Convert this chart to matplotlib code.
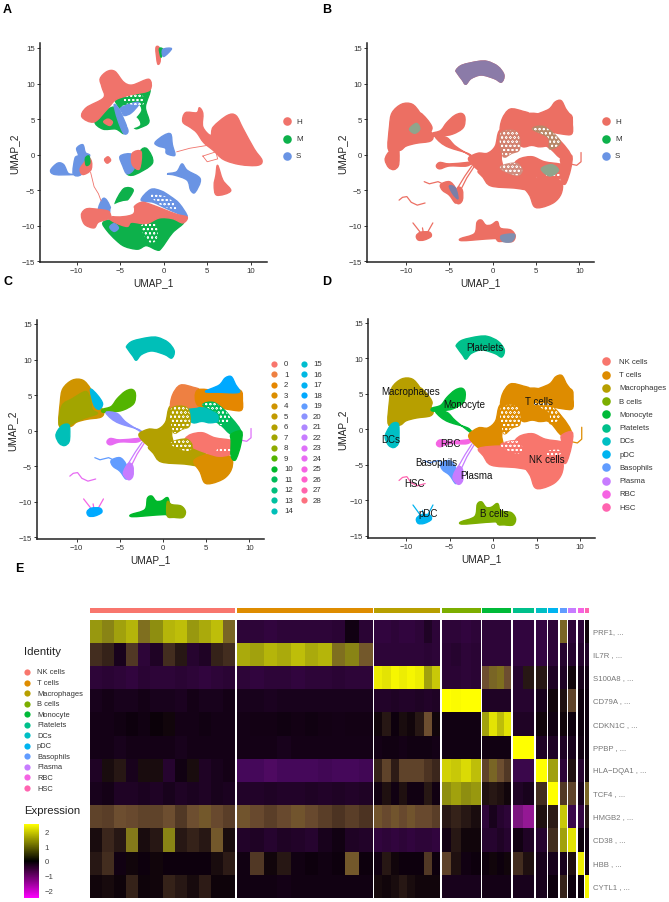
import matplotlib
matplotlib.use("Agg")
import matplotlib.pyplot as plt
import numpy as np
from matplotlib.colors import LinearSegmentedColormap
from matplotlib.path import Path
from matplotlib.patches import PathPatch
from matplotlib.cm import ScalarMappable
from matplotlib.colors import Normalize

plt.rcParams["font.family"] = ["Liberation Sans", "DejaVu Sans"]
plt.rcParams["hatch.linewidth"] = 0.35

W, H = 669, 903

# colours
cell_types = ["NK cells", "T cells", "Macrophages", "B cells", "Monocyte", "Platelets",
              "DCs", "pDC", "Basophils", "Plasma", "RBC", "HSC"]
cell_colors = ["#F8766D", "#DE8C00", "#B79F00", "#7CAE00", "#00BA38", "#00C08B",
               "#00BFC4", "#00B4F0", "#619CFF", "#C77CFF", "#F564E3", "#FF64B0"]
cluster_colors = ["#F8766D", "#EE8042", "#E58700", "#DB8E00", "#CF9400", "#C29A00", "#B3A000", "#A2A500",
                  "#8EAB00", "#53B400", "#00B82B", "#00BB5A", "#00BE7D", "#00C0A0", "#00BFB8",
                  "#00BDCF", "#00B9E3", "#00B2F3", "#00A9FF", "#619CFF", "#8B93FF", "#AE87FF",
                  "#C77CFF", "#DE71F9", "#E76BF3", "#F564E3", "#FF61CC", "#FF65AC", "#FC717F"]
phase_names = ["H", "M", "S"]
phase_colors = ["#F0736B", "#0DB14B", "#6A94E4"]

# UMAP outlines, panels B C D
platelets = [(-4.2, 11.9), (-3.5, 12.6), (-1.7, 13.1), (-.6, 13.1), (.6, 12.4), (1.3, 11.2), (1, 10.2), (.2, 10.7),
             (-1.3, 11.2), (-2.5, 10.7), (-3.1, 9.9), (-3.5, 10.5), (-4.1, 11.5)]
bcell_left = [(-3.7, -11.8), (-2.1, -11.1), (-1.8, -9.5), (-1.3, -9.2), (-.8, -9.9), (-.2, -9.9), (.6, -9.5),
              (.8, -12), (.2, -11.8), (-2.1, -12), (-3.6, -12.1)]
bcell_right = [(.5, -10), (1, -10.4), (2.1, -10.6), (2.6, -11.4), (2.3, -12.2), (1.3, -12.2), (.5, -12)]
pdc_blob = [(-8.8, -11.4), (-8.3, -10.9), (-7.3, -10.9), (-7.1, -11.5), (-7.9, -12), (-8.6, -12)]
rbc = [(-6.5, -1.6), (-6.1, -1.1), (-5, -1.3), (-3, -1.1), (-2.3, -1), (-3, -1.6), (-5, -1.6), (-6.1, -2)]
basophils = [(-6, -4.2), (-5, -3.8), (-4.3, -4.7), (-4, -6.2), (-4.3, -6.8), (-5, -5.7), (-5.8, -5)]
plasma = [(-4.6, -6), (-4, -4.6), (-3.5, -5), (-3.5, -6.4), (-4, -6.9)]
dcs = [(-12.2, 0), (-11.6, .8), (-10.9, .8), (-10.8, -.5), (-10.9, -1.6), (-11.4, -2.1), (-12, -1.8), (-12.4, -.8)]
mac_top = [(-12, .7), (-11.9, 4), (-11.6, 5.9), (-10.5, 7.1), (-9.3, 7.1), (-8.4, 5.9), (-7.6, 4), (-6.9, 2.7),
           (-7.2, 1.9), (-8.8, 1.6), (-10, 1.2), (-10.7, .6)]
mac_low = [(-12, .7), (-11.7, 3.5), (-10.5, 4.5), (-9, 5.5), (-8.5, 4.7), (-8.2, 3), (-7.6, 2.4), (-9, 1.8),
           (-10, 1.3), (-10.8, .8)]
mac_edge = [(-8.4, 5.8), (-7.6, 5), (-7, 3.8), (-7.4, 3), (-8, 3.6)]
monocyte = [(-7, 3), (-6, 3.4), (-5.3, 4.5), (-4.4, 5.5), (-3.6, 5.8), (-3.2, 5.2), (-3.4, 3.8), (-4.6, 2.9),
            (-6, 2.6), (-7, 2.6)]
mono_tail = [(-6.6, 2.6), (-5.3, 2.4), (-4.3, 1.2), (-2.5, -.2), (-2.9, .2), (-5, 1), (-6, 1.7)]
hub = [(-2.8, -.6), (-1.7, .2), (-.6, .2), (.3, 1.2), (.8, 3.4), (2.2, 3.9), (2, 2.5), (1.3, 1.2), (1, -.5), (1.1, -2),
       (-.4, -2.4), (-1.6, -2.2)]
strip = [(-1.6, -2.2), (.9, -1.9), (2.9, -2.2), (4.8, -2.8), (4.8, -4.9), (2.5, -4.7), (-.2, -4.4), (-1.1, -3.2)]
lobe_low = [(3.6, -4.2), (5.5, -3.2), (7, -3.2), (8, -4), (7.9, -5.5), (7.1, -6.7), (5.7, -7.4), (4.8, -7.3), (4.3, -5.8)]
nk_core = [(2.6, -1.1), (3.3, -.5), (4.6, -.3), (6, -1), (8, -1.4), (8.2, -2.2), (7.8, -3.3), (6.5, -3.6), (5.2, -3.2),
           (3.5, -2.4), (2.7, -1.8)]
arc_top = [(6, 3.9), (7.9, 1.8), (9, -.1), (7.9, -.5), (6.7, .8), (5.2, 2.2)]
arc_low = [(9.1, -.1), (9, -2), (8.4, -4.1), (7.9, -3.6), (7.9, -1.5), (7.9, -.5)]
teal_lobe = [(2.8, 1.9), (3, 3.4), (4, 3.9), (6, 3.2), (6.5, 1.5), (5.5, 1.1), (4.5, 1.3), (3.5, 1.1)]
t_left = [(.9, 3.2), (1.1, 5), (2, 6.4), (3.5, 6.1), (4.3, 5.6), (4.3, 3.6), (3, 3.2), (1.8, 3)]
t_right = [(4, 5.7), (6.5, 5.6), (8.9, 5.7), (9.2, 4.2), (9.1, 2.9), (8, 2.9), (5.8, 3.4), (4, 3.6)]
t_peak = [(4.9, 5.5), (6.5, 6.4), (7.2, 7.4), (7.9, 7.6), (8.4, 6.5), (8.8, 5.4), (6.5, 5.4)]

# sparse speckled parts of the ring
sparse_left = [(.9, 3), (2.8, 3.2), (3.1, .8), (2.2, .2), (1.2, -.2)]
sparse_arc = [(4.6, 3.6), (6, 3.9), (7.8, 1.8), (6.6, .8), (6.4, 2.4)]
sparse_low = [(1, -1.6), (2.7, -1.2), (3.4, -2.2), (2.8, -2.9), (1.2, -2.2)]
holes_ring = [(6.3, -3.1), (7.7, -3), (7.6, -2.4), (6.4, -2.5)]

# thin trails: (x list, y list)
hsc_x, hsc_y = [-10.8, -10.4, -9.9, -9.4, -8.7, -7.8], [-6.4, -6, -5.9, -6.7, -7.1, -6.8]
baso_x, baso_y = [-7.9, -7.3, -6.3, -5.4, -4.6], [-3.8, -4.1, -3.8, -4.3, -5.5]
plasma_x, plasma_y = [-3.7, -3, -2.2], [-5, -3.3, -1.8]
plasma2_x, plasma2_y = [-4.1, -3.2, -2.4], [-4.8, -3, -1.6]
leg1_x, leg1_y = [-9.2, -8.3], [-9.6, -11]
leg2_x, leg2_y = [-6.9, -7.5], [-9.6, -10.9]
leg3_x, leg3_y = [-8.1, -8], [-10.3, -11]
far_x, far_y = [8.9, 9.7, 10.2, 10.2], [-1.3, -1.5, -1, .3]

solid_shapes = [mac_top, mac_low, mac_edge, dcs, monocyte, mono_tail, platelets, bcell_left, bcell_right, pdc_blob, rbc,
                basophils, plasma, hub, strip, lobe_low, nk_core, arc_top, arc_low, teal_lobe, t_left, t_right, t_peak]
shape_cluster = [4, 7, 16, 14, 9, 20, 14, 10, 8, 18, 24, 19, 22, 6, 6, 3, 0, 11, 10, 14, 1, 2, 18]
shape_type = [2, 2, 2, 6, 4, 4, 5, 3, 3, 7, 10, 8, 9, 1, 0, 0, 0, 1, 0, 1, 1, 1, 1]
sparse_shapes = [sparse_left, sparse_arc, sparse_low]
sparse_cluster = [6, 11, 6]
sparse_type = [1, 1, 0]
trails = [(hsc_x, hsc_y), (baso_x, baso_y), (plasma_x, plasma_y), (plasma2_x, plasma2_y), (leg1_x, leg1_y),
          (leg2_x, leg2_y), (leg3_x, leg3_y), (far_x, far_y)]
trail_cluster = [24, 19, 23, 22, 25, 25, 25, 23]
trail_type = [11, 8, 9, 9, 7, 7, 7, 1]

# panel A outlines
a_h_big = [(2.2, 4.6), (2.5, 5.9), (3.8, 5.9), (4.1, 6.6), (4.5, 5.8), (4.5, 3.9), (5.4, 2.7), (5.7, 3.9), (7.3, 5.5),
           (8.3, 5.5), (9.1, 3.7), (10.4, .8), (11.3, -.8), (10.8, -1.5), (8.8, -1.4), (6.9, -.7), (5.7, .6), (4.6, 1.7),
           (3.8, 3.1), (3.1, 3.8)]
a_h_low = [(6.2, -1.5), (6.8, -3.6), (7.7, -5.1), (6.1, -5.7), (5.8, -4.3), (6, -2.9)]
a_s_right = [(.4, -2.7), (1.5, -2.4), (2.1, -1.3), (2.7, -2.2), (4.2, -3.4), (3.6, -5.3), (3.1, -5), (2.7, -3.6), (1.3, -2.9)]
a_s_mid = [(-1, 1.7), (0, 2.7), (.8, 2.9), (1, 1.4), (1.3, 0), (.9, -.1), (.3, .2), (.2, .9), (-.6, 1.2)]
a_s_far = [(-13, -2.2), (-12.2, -1.2), (-11.5, -1.4), (-11, -2.6), (-10.5, -2.8), (-12.5, -2.8)]
a_s_ring = [(-10.4, -2.7), (-10.2, -.5), (-9.8, -.1), (-10, .9), (-9.3, 1.4), (-9, .3), (-8.5, -.1), (-9, -1), (-9.5, -2.8)]
a_h_ring = [(-9.3, -2.8), (-8.4, -2.2), (-8.3, -1), (-8.7, -.3), (-9, -.9), (-9.6, -2)]
a_m_ring = [(-9, -.5), (-8.6, -.2), (-8.5, -1.2), (-8.9, -1.5)]
a_m_box = [(-2.7, .5), (-1.9, .8), (-1.3, -1.2), (-3.3, -2.8), (-4.2, -2.7), (-3.4, -1.9)]
a_s_box = [(-5, -.2), (-3.6, 0), (-3.4, -1.9), (-4.2, -2.7), (-4.7, -1.6)]
a_h_box = [(-3.6, .2), (-2.6, .4), (-2.8, -2), (-3.6, -1.4)]
a_spot = [(-6.8, -.7), (-6.4, -.3), (-6.1, -.8), (-6.5, -1.2)]
a_h_tip = [(-.9, 15), (-.5, 15), (-.4, 13.2), (-.7, 12.8)]
a_m_tip = [(-.5, 14.9), (-.1, 14.8), (-.3, 13.7)]
a_s_tip = [(-.1, 14.8), (.9, 14.9), (0, 13.8)]
a_h_up = [(-7.3, 10.7), (-6.5, 11.7), (-5.6, 11.7), (-4.6, 10.2), (-3.6, 9.8), (-1.7, 10.6), (-1.6, 9.1), (-3.4, 8.5),
          (-5.4, 7.8), (-6.5, 6.4), (-8, 4.6), (-9.4, 5.3), (-8.9, 6.6), (-6.9, 8), (-7.1, 9.5)]
a_m_up = [(-5.5, 7.9), (-3.4, 8.6), (-1.6, 9.2), (-2.1, 6.7), (-1.7, 4.6), (-2.7, 3.8), (-3.3, 3.7), (-3.7, 4.6), (-3, 5.3),
          (-2.5, 6.3), (-3, 7.2), (-4.7, 7), (-5, 6.5)]
a_s_up = [(-4.9, 6.6), (-3.4, 7.3), (-2.8, 7.2), (-3.7, 5.9), (-4.5, 5.5), (-4.8, 6)]
a_s_stream = [(-5.7, 7), (-5.2, 6.5), (-4.6, 5), (-4.1, 3.3), (-4.6, 3), (-5.3, 5)]
a_m_stream = [(-7.9, 4.7), (-6.5, 6.3), (-5.6, 6.6), (-5.3, 5), (-4.6, 3), (-5.5, 3.6), (-7, 3.6)]
a_h_small = [(-6.9, 4.6), (-6.4, 5), (-5.9, 4.6), (-6.2, 4.1)]
a_h_left = [(-9.4, -8.2), (-8.8, -7.6), (-7.5, -7.7), (-6.3, -8), (-6.2, -8.9), (-7.5, -9.5), (-8, -10.3), (-9, -9.9), (-9.4, -9)]
a_h_band = [(-6.3, -8.8), (-5, -8.6), (-3.9, -8.3), (-3.3, -7.2), (-2.5, -6.7), (-1.5, -7), (0, -7.7), (1.5, -8.4), (2.7, -8.8),
            (2.2, -9.6), (1, -9), (-.5, -8.9), (-2, -9.7), (-3.7, -9.5), (-4.2, -10.1), (-5.5, -9.6), (-6.3, -9)]
a_m_low = [(-7, -9.6), (-6, -9.2), (-4.2, -10), (-3.6, -9.4), (-2, -9.6), (-.5, -8.8), (1, -8.9), (2.3, -9.5), (1, -11),
           (-.3, -13.2), (-.8, -13.4), (-2, -12.8), (-3, -13.3), (-4.5, -12.9), (-5.5, -12), (-6.5, -10.7)]
a_s_top = [(-2.6, -6.4), (-1.5, -4.9), (-.3, -5.1), (.8, -5.9), (1.8, -6.9), (2.7, -8.7), (1.5, -8.2), (.2, -7.5), (-1.2, -6.7)]
a_s_left = [(-7.5, -7.7), (-7, -6.2), (-6.5, -6.5), (-6, -8), (-6.7, -8)]
a_s_dot = [(-6.2, -10.2), (-5.7, -9.7), (-5.2, -10.3), (-5.7, -10.8)]
a_m_fan = [(-5.6, -7), (-4.6, -4.8), (-3.5, -5), (-4.5, -6.8)]
a_solid = [a_h_big, a_h_low, a_s_right, a_s_mid, a_s_far, a_s_ring, a_h_ring, a_m_ring, a_m_box, a_s_box, a_h_box, a_spot,
           a_h_tip, a_m_tip, a_s_tip, a_m_up, a_m_stream, a_h_up, a_s_up, a_s_stream, a_h_small, a_s_top, a_s_left, a_m_low,
           a_h_left, a_h_band, a_s_dot, a_m_fan]
a_phase = [0, 0, 2, 2, 2, 2, 0, 1, 1, 2, 0, 0, 0, 1, 2, 1, 1, 0, 2, 2, 0, 2, 2, 1, 0, 0, 2, 1]
a_white = [[(-2.6, -10), (-.9, -9.8), (-.8, -12), (-1.8, -12.2)], [(-1.6, -5.6), (.4, -6), (1.6, -7.6), (-.2, -7.2)],
           [(-4.6, 8), (-2.6, 8.5), (-2.4, 7), (-4.2, 7.2)]]
a_blank = [[(-5.8, -7.2), (-4, -6.6), (-3.6, -8.2), (-5.8, -8.5)], [(-4, 5.2), (-3.2, 5.2), (-2.8, 4.2), (-4, 3.8)]]
a_trail_x = [[1.5, 3, 5], [-8.4, -8, -7.5, -7.2], [4.5, 6, 6.2, 5, 4.5]]
a_trail_y = [[.4, .9, 1.3], [-2.5, -4.5, -5.5, -6.5], [-.2, .4, -.6, -1, -.2]]
a_trail_phase = [0, 0, 0]

# panel B tint patches
b_patch = [platelets, [(-9.6, 3.6), (-8.8, 4.4), (-8.4, 3.6), (-9, 3)], [(5.6, -2), (6.8, -1.4), (7.6, -2.2), (6.6, -3)],
           [(1, -11.4), (2.5, -11.2), (2.2, -12.2), (1.2, -12.2)], [(-5, -4.4), (-4.3, -4.7), (-4, -6.2), (-4.6, -5.5)]]
b_patch_color = ["#8B7BA8", "#8FA58C", "#8FA58C", "#7F8FB0", "#7A7FA8"]

# heatmap
genes = ["PRF1, ...", "IL7R , ...", "S100A8 , ...", "CD79A , ...", "CDKN1C , ...", "PPBP , ...", "HLA\u2212DQA1 , ...",
         "TCF4 , ...", "HMGB2 , ...", "CD38 , ...", "HBB , ...", "CYTL1 , ..."]
cluster_sizes = [145, 136, 66, 39, 29, 21.5, 11, 10, 7, 8, 6, 3.5]
nk_vals = [[1.4, 1.2, 1.5, 1.7, 1.0, 1.3, 1.7, 1.8, 1.4, 1.6, 1.8, .9],
           [.4, .3, -.2, .5, -.5, -.3, .4, .2, -.4, -.3, .3, .4],
           [-.5, -.45, -.5, -.55, -.45, -.5, -.5, -.45, -.5, -.55, -.5, -.45],
           [-.2, -.15, -.2, -.2, -.15, -.2, -.2, -.25, -.15, -.2, -.2, -.15],
           [-.15, -.15, -.1, -.05, -.1, 0, .05, -.15, -.15, -.1, -.15, -.15],
           [-.15, -.15, -.2, -.15, -.15, -.15, -.15, -.2, -.15, -.15, -.15, -.15],
           [-.3, .1, .2, -.2, .1, .1, -.4, -.1, .1, -.3, -.2, -.15],
           [-.2, -.15, -.3, -.3, -.25, -.3, -.2, -.3, -.25, -.3, -.2, -.25],
           [.6, .55, .7, .65, .6, .6, .7, .5, .7, .8, .65, .55],
           [.1, .35, .2, 1.1, .1, .2, 1.2, .2, .3, .2, .8, .1],
           [.2, .4, -.1, .05, -.05, .05, -.05, -.05, -.05, -.05, .1, .25],
           [.05, .08, .03, .3, .02, .05, .3, .2, .08, .25, .03, .03]]
t_vals = [[-.5, -.5, -.55, -.5, -.5, -.5, -.5, -.45, -.1, -.45],
          [1.6, 1.5, 1.7, 1.6, 1.8, 1.6, 1.7, 1.0, 1.2, .8],
          [-.5, -.55, -.5, -.5, -.55, -.5, -.5, -.45, -.5, -.5],
          [-.2, -.2, -.25, -.2, -.2, -.2, -.2, -.2, -.2, -.2],
          [-.15, -.12, -.12, -.08, -.12, -.08, -.12, -.15, -.12, -.12],
          [-.15, -.15, -.15, -.2, -.15, -.15, -.15, -.15, -.15, -.15],
          [-.85, -.85, -.9, -.85, -.85, -.85, -.8, -.85, -.85, -.8],
          [-.35, -.35, -.3, -.35, -.35, -.3, -.35, -.3, -.35, -.3],
          [.75, .65, .55, .65, .75, .65, .55, .45, .55, .45],
          [-.35, -.3, -.4, -.3, -.35, -.4, -.2, -.1, -.3, -.35],
          [-.1, .5, .05, .2, -.1, -.05, -.1, -.05, .8, -.05],
          [-.1, -.1, -.1, -.15, -.1, -.1, -.1, -.1, -.1, -.1]]
mac_vals = [[-.55, -.55, -.5, -.55, -.55, -.5, -.3, -.5],
            [-.5, -.5, -.5, -.5, -.5, -.5, -.45, -.5],
            [2.3, 2.2, 2.4, 2.3, 2.4, 2.3, 1.5, 1.9],
            [-.35, -.35, -.3, -.35, -.35, -.3, -.35, -.3],
            [.05, .2, -.05, .1, .05, .2, .7, .05],
            [-.15, -.1, -.1, -.15, -.1, -.1, -.1, -.15],
            [.3, .6, .25, .6, .6, .6, .45, .35],
            [-.1, .15, -.1, .15, -.1, -.1, .2, -.1],
            [.75, .65, .75, .65, .75, .65, .65, .55],
            [-.55, -.5, -.55, -.5, -.55, -.5, -.5, -.55],
            [-.1, .2, .05, -.05, -.05, -.05, .5, -.05],
            [.08, .05, .1, .2, .1, .05, .05, .05]]
b_vals = [[-.5, -.5, -.55, -.5], [-.45, -.4, -.5, -.45], [-.45, -.45, -.5, -.45], [2.5, 2.45, 2.5, 2.5],
          [-.1, -.1, -.1, -.1], [-.1, -.1, -.1, -.1], [2, 1.9, 2.1, 1.8], [1.3, 1.5, 1.3, 1.4],
          [.2, .3, .2, .1], [-.1, .2, .05, .05], [.6, .15, -.1, -.05], [-.2, -.2, -.2, -.2]]
mono_vals = [[-.5, -.5, -.5, -.5], [-.5, -.5, -.5, -.5], [.7, .9, 1, .7], [-.3, -.3, -.3, -.3],
             [1.5, 2.2, 1.8, 2.2], [-.1, -.1, -.1, -.1], [.6, .9, .7, .5], [.15, .2, .15, .05],
             [-.5, -.2, -.4, -.5], [-.4, -.4, -.3, -.4], [-.05, .05, -.05, .05], [-.15, -.15, -.15, -.15]]
plt_vals = [[-.55, -.55], [-.55, -.55], [-.4, .2], [-.4, -.4], [-.3, -.3], [2.5, 2.5], [-.7, -.7], [-.3, -.2],
            [-1.2, -1.4], [-.1, -.3], [.4, .15], [-.2, -.2]]
dc_vals = [[-.6], [-.6], [.2], [-.2], [.05], [-.3], [2.5], [.4], [.15], [-.4], [-.2], [-.2]]
pdc_vals = [[-.5], [-.5], [-.3], [.05], [-.1], [-.3], [1.5], [2.5], [.25], [.4], [-.2], [-.05]]
baso_vals = [[.9], [-.4], [-.3], [.15], [.05], [-.3], [-.5], [.5], [1.9], [1.5], [-.2], [.3]]
plasma_vals = [[-.5], [-.4], [.05], [.6], [-.05], [-.2], [.15], [.6], [-.7], [2.2], [.15], [-.05]]
rbc_vals = [[-.5], [-.4], [-.2], [-.05], [-.05], [-.1], [-.4], [-.2], [-.6], [-.05], [2.3], [-.05]]
hsc_vals = [[.05], [-.3], [-.1], [-.05], [-.05], [-.05], [.05], [.9], [.2], [-.1], [-.1], [2.4]]
heat_blocks = [nk_vals, t_vals, mac_vals, b_vals, mono_vals, plt_vals, dc_vals, pdc_vals, baso_vals, plasma_vals, rbc_vals, hsc_vals]

fig = plt.figure(figsize=(W / 100, H / 100), dpi=100)


def px_axes(l, t, r, b):
    return fig.add_axes([l / W, 1 - b / H, (r - l) / W, (b - t) / H])


def umap_axes(l, r, xm10, xp10, t, b, y15, ym15, ylab_x):
    ax = px_axes(l, t, r, b)
    sx = (xp10 - xm10) / 20
    sy = (ym15 - y15) / 30
    ax.set_xlim(-10 + (l - xm10) / sx, 10 + (r - xp10) / sx)
    ax.set_ylim(-15 - (b - ym15) / sy, 15 + (y15 - t) / sy)
    ax.set_xticks([-10, -5, 0, 5, 10])
    ax.set_yticks([-15, -10, -5, 0, 5, 10, 15])
    ax.set_xticklabels(["\u221210", "\u22125", "0", "5", "10"])
    ax.set_yticklabels(["\u221215", "\u221210", "\u22125", "0", "5", "10", "15"])
    ax.tick_params(labelsize=5.7, length=2, width=.7, pad=1.5, colors="#333333")
    for s in ["top", "right"]:
        ax.spines[s].set_visible(False)
    for s in ["left", "bottom"]:
        ax.spines[s].set_linewidth(1.1)
        ax.spines[s].set_color("#222222")
    ax.set_xlabel("UMAP_1", fontsize=7.2, color="#222222", labelpad=2.5)
    ax.set_ylabel("UMAP_2", fontsize=7.2, color="#222222")
    ax.yaxis.set_label_coords((ylab_x - l) / (r - l), .5)
    return ax


def stretch_d(y):
    # panel D runs a little lower in its negative half
    return y if y > 0 else y * 1.08 - .3


def round_path(pts, yfun=None):
    # closed bezier outline that goes through every vertex, so shapes keep their size
    p = [np.array((a, yfun(b) if yfun else b)) for a, b in pts]
    n = len(p)
    verts = [p[0]]
    codes = [Path.MOVETO]
    for i in range(n):
        c1 = p[i] + (p[(i + 1) % n] - p[i - 1]) / 6
        c2 = p[(i + 1) % n] - (p[(i + 2) % n] - p[i]) / 6
        verts += [c1, c2, p[(i + 1) % n]]
        codes += [Path.CURVE4, Path.CURVE4, Path.CURVE4]
    return Path(verts, codes)


def fill_shape(ax, pts, color, yfun=None, z=2):
    ax.add_patch(PathPatch(round_path(pts, yfun), facecolor=color, edgecolor=color, linewidth=1.0, zorder=z,
                           joinstyle="round"))


def speckle(ax, pts, color, yfun=None, z=3, base=None):
    # white flecks over a coloured base
    if base is not None:
        fill_shape(ax, pts, base, yfun, z=z - 1)
    ax.add_patch(PathPatch(round_path(pts, yfun), facecolor="none", edgecolor=color, linewidth=0, hatch="oooo", zorder=z))


def draw_common(ax, shape_col, sparse_col, trail_col, yfun=None):
    for (tx, ty), col in zip(trails, trail_col):
        ax.plot(tx, [yfun(v) if yfun else v for v in ty], color=col, lw=.9, zorder=2, solid_capstyle="round")
    for pts, col in zip(solid_shapes, shape_col):
        fill_shape(ax, pts, col, yfun)
    for pts, col in zip(sparse_shapes, sparse_col):
        speckle(ax, pts, "white", yfun, z=3, base=col)
    speckle(ax, holes_ring, "white", yfun, z=4)


overlay = fig.add_axes([0, 0, 1, 1])
overlay.set_xlim(0, W)
overlay.set_ylim(H, 0)
overlay.axis("off")
overlay.set_zorder(5)


def legend_column(labels, colors, dot_x, text_x, y0, step, size, fs):
    for i, (lab, col) in enumerate(zip(labels, colors)):
        overlay.scatter([dot_x], [y0 + i * step], s=size, color=col, linewidths=0)
        overlay.text(text_x, y0 + i * step, lab, fontsize=fs, va="center", color="#333333")


# A
ax_a = umap_axes(39.5, 266.7, 76.7, 250.7, 44, 263, 49, 262.3, 19)
for pts, p in zip(a_solid, a_phase):
    fill_shape(ax_a, pts, phase_colors[p])
for pts in a_blank:
    fill_shape(ax_a, pts, "white", z=3)
for pts in a_white:
    speckle(ax_a, pts, "white", z=4)
for tx, ty, p in zip(a_trail_x, a_trail_y, a_trail_phase):
    ax_a.plot(tx, ty, color=phase_colors[p], lw=.6, zorder=2)
legend_column(phase_names, phase_colors, 287, 296, 122, 17.5, 38, 5.8)

# B
ax_b = umap_axes(366.7, 594, 406, 579.3, 44, 263, 49, 262.3, 347)
b_col = "#EC6F63"
draw_common(ax_b, [b_col] * len(solid_shapes), ["#D2826F", "#B8896A", "#D08C7E"], [b_col] * len(trails))
for pts, col in zip(b_patch, b_patch_color):
    fill_shape(ax_b, pts, col, z=4)
legend_column(phase_names, ["#EC6F63", "#0DB14B", "#6A94E4"], 606, 615, 122, 17.5, 38, 5.8)

# C
ax_c = umap_axes(36.7, 264, 76.7, 249.3, 320.7, 540, 325, 538.3, 17)
draw_common(ax_c, [cluster_colors[i] for i in shape_cluster], [cluster_colors[i] for i in sparse_cluster],
            [cluster_colors[i] for i in trail_cluster])
labels = [str(i) for i in range(29)]
legend_column(labels[:15], cluster_colors[:15], 274, 284, 364.7, 10.5, 20, 5.7)
legend_column(labels[15:], cluster_colors[15:], 304, 313, 364.7, 10.5, 20, 5.7)

# D
ax_d = umap_axes(368, 595, 406, 580, 320, 539, 324, 536.7, 347)
draw_common(ax_d, [cell_colors[i] for i in shape_type], [cell_colors[i] for i in sparse_type],
            [cell_colors[i] for i in trail_type], stretch_d)
label_x = [6.2, 5.3, -9.5, .2, -3.3, -.9, -11.7, -7.5, -6.5, -1.9, -4.9, -9]
label_y = [-4.2, 4, 5.4, -11.8, 3.6, 11.6, -1.3, -11.8, -4.65, -6.4, -1.9, -7.5]
for name, lx, ly in zip(cell_types, label_x, label_y):
    ax_d.text(lx, ly, name, fontsize=7, ha="center", va="center", color="#111111", zorder=6)
legend_column(cell_types, cell_colors, 606, 619.3, 362.3, 13.27, 38, 5.6)

# E heatmap: mid values lean brown the way the blended stripes do in the print
gap = 1.5
total = sum(cluster_sizes) + gap * (len(cluster_sizes) - 1)
ax_h = px_axes(90, 620.7, 588.7, 899)
ax_bar = px_axes(90, 608.7, 588.7, 614)
cell_cmap = LinearSegmentedColormap.from_list(
    "cells", [(0, "#FF00FF"), (.24, "#8A1A8A"), (.33, "#45085A"), (.5, "#0A0008"), (.64, "#6E4E30"), (.76, "#8E8E10"), (1, "#FFFF00")])
start = 0
for vals, size, col in zip(heat_blocks, cluster_sizes, cell_colors):
    vals = np.array(vals, dtype=float)
    edges = np.linspace(start, start + size, vals.shape[1] + 1)
    ax_h.pcolormesh(edges, np.arange(13), vals, cmap=cell_cmap, vmin=-2.5, vmax=2.5)
    ax_bar.barh(0, size, left=start, height=1, color=col)
    start += size + gap
ax_h.set_xlim(0, total)
ax_h.set_ylim(12, 0)
ax_h.axis("off")
ax_bar.set_xlim(0, total)
ax_bar.set_ylim(-.5, .5)
ax_bar.axis("off")
for i, g in enumerate(genes):
    ax_h.text(total + 4.5 * total / 498.7, i + .5, g, fontsize=5.6, va="center", color="#777777", clip_on=False)

overlay.text(24, 652, "Identity", fontsize=8.2, va="center", color="#222222")
overlay.text(24, 810.7, "Expression", fontsize=8.2, va="center", color="#222222")
legend_column(cell_types, cell_colors, 27, 37, 673, 10.55, 20, 5.4)

cax = px_axes(24, 825, 39, 899)
bar_cmap = LinearSegmentedColormap.from_list("purple_yellow", ["#FF00FF", "#000000", "#FFFF00"])
cb = fig.colorbar(ScalarMappable(Normalize(-2.5, 2.5), bar_cmap), cax=cax, ticks=[-2, -1, 0, 1, 2])
cb.ax.set_yticklabels(["\u22122", "\u22121", "0", "1", "2"])
cb.outline.set_visible(False)
cb.ax.tick_params(labelsize=5.6, length=0, pad=4, colors="#444444")

# panel letters
for letter, lx, ly in [("A", 3, 10), ("B", 322, 10), ("C", 3, 282), ("D", 322, 282), ("E", 15, 569)]:
    overlay.text(lx, ly, letter, fontsize=9, fontweight="bold", va="center", color="black")

fig.savefig("out.png", dpi=100)
